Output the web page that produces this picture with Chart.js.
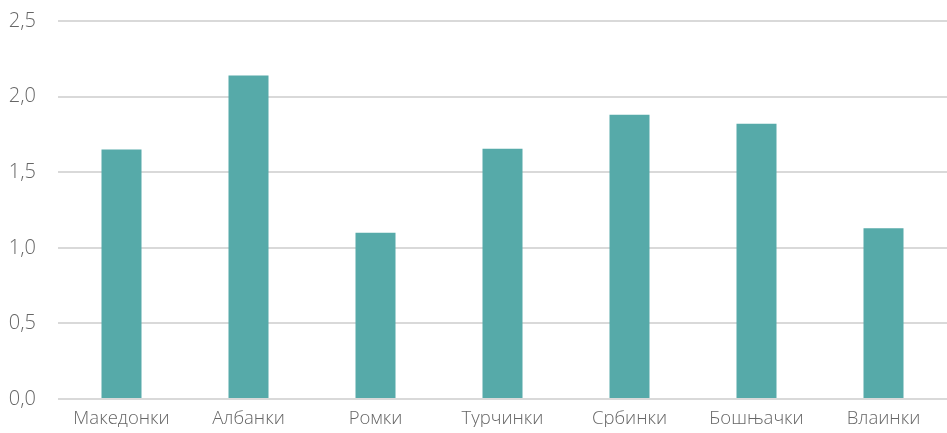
<!DOCTYPE html>
<html>
<head>
<meta charset="utf-8">
<script src="https://cdn.jsdelivr.net/npm/chart.js@4"></script>
<style>
html,body{margin:0;padding:0;background:#fff;}
#wrap{width:947px;height:433px;position:relative;}
</style>
</head>
<body>
<div id="wrap"><canvas id="c" width="947" height="433"></canvas></div>
<script>
const categories = ["Македонки", "Албанки", "Ромки", "Турчинки", "Србинки", "Бошњачки", "Влаинки"];
const values = [1.65, 2.14, 1.10, 1.655, 1.88, 1.82, 1.13];
const yTicks = [0, 0.5, 1.0, 1.5, 2.0, 2.5];

const chart = new Chart(document.getElementById('c'), {
  type: 'bar',
  data: {
    labels: categories,
    datasets: [{
      data: values,
      backgroundColor: '#56aaa9',
      borderWidth: 0,
      barPercentage: 0.315,
      categoryPercentage: 1.0
    }]
  },
  options: {
    responsive: false,
    animation: false,
    layout: { padding: { top: 0, right: 0, bottom: 0, left: 0 } },
    plugins: { legend: { display: false }, tooltip: { enabled: false } },
    scales: {
      x: {
        afterFit: (axis) => { axis.height = 28; },
        grid: { display: false, drawTicks: false },
        border: { display: false },
        ticks: { color: '#666', font: { family: 'Open Sans', size: 18.5, weight: 300 }, padding: 9, maxRotation: 0 }
      },
      y: {
        min: 0, max: 2.5,
        afterBuildTicks: (axis) => { axis.ticks = yTicks.map(v => ({ value: v })); },
        afterFit: (axis) => { axis.width = 58; axis.paddingTop = 21; },
        grid: { color: '#d9d9d9', lineWidth: 2, drawTicks: false },
        border: { display: false },
        ticks: {
          color: '#666', font: { family: 'Open Sans', size: 20, weight: 300 }, padding: 22,
          callback: (v) => Number(v).toFixed(1).replace('.', ',')
        }
      }
    }
  }
});
</script>
</body>
</html>
